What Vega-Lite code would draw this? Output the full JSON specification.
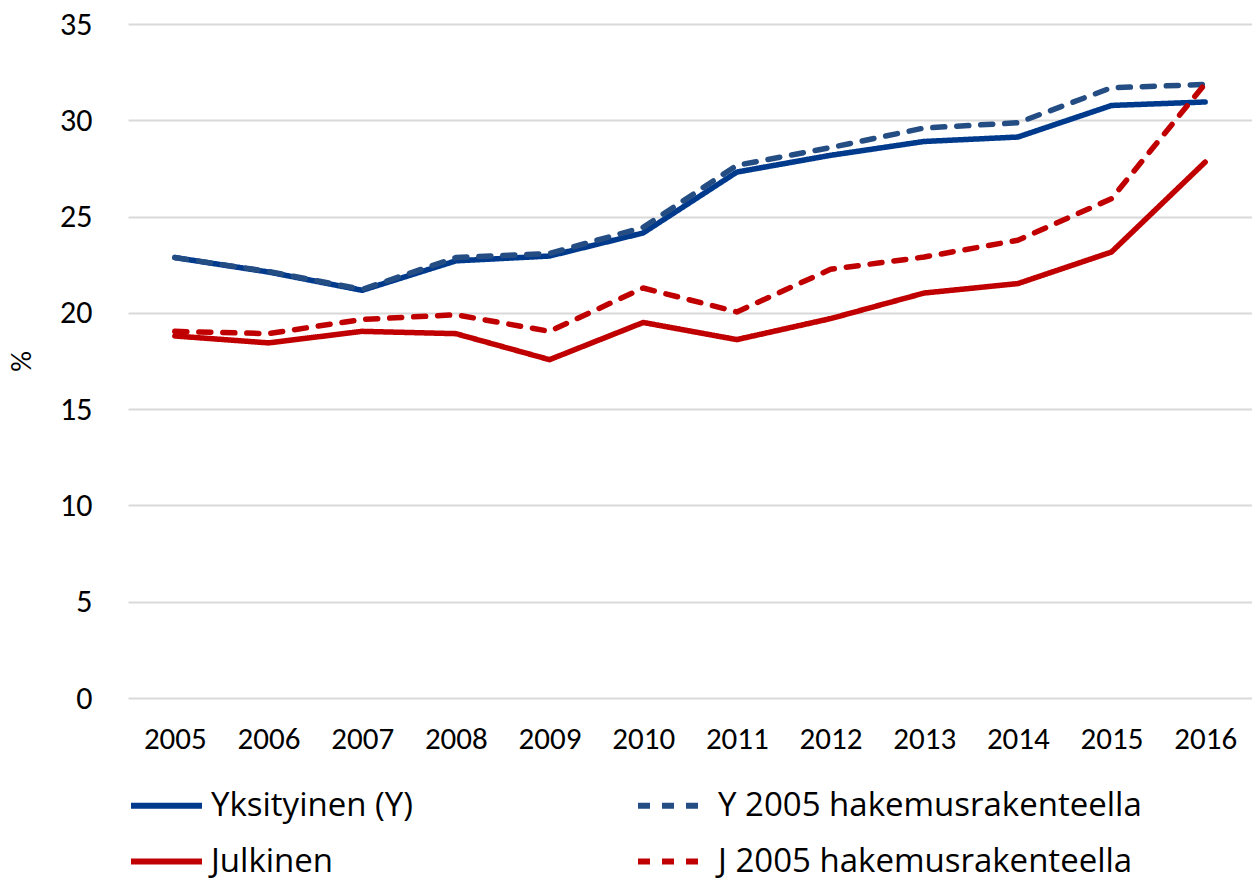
{
  "$schema": "https://vega.github.io/schema/vega-lite/v6.json",
  "width": 1124,
  "height": 674,
  "autosize": {"type": "none"},
  "padding": {"left": 128, "top": 24, "right": 0, "bottom": 184},
  "background": "white",
  "config": {
    "font": "Carlito, Lato, sans-serif",
    "view": {"stroke": null}
  },
  "data": {
    "values": [
      {"year": "2005", "series": "Yksityinen (Y)", "value": 22.87},
      {"year": "2006", "series": "Yksityinen (Y)", "value": 22.12},
      {"year": "2007", "series": "Yksityinen (Y)", "value": 21.17},
      {"year": "2008", "series": "Yksityinen (Y)", "value": 22.7},
      {"year": "2009", "series": "Yksityinen (Y)", "value": 22.95},
      {"year": "2010", "series": "Yksityinen (Y)", "value": 24.15},
      {"year": "2011", "series": "Yksityinen (Y)", "value": 27.31},
      {"year": "2012", "series": "Yksityinen (Y)", "value": 28.18},
      {"year": "2013", "series": "Yksityinen (Y)", "value": 28.9},
      {"year": "2014", "series": "Yksityinen (Y)", "value": 29.13},
      {"year": "2015", "series": "Yksityinen (Y)", "value": 30.77},
      {"year": "2016", "series": "Yksityinen (Y)", "value": 30.95},
      {"year": "2005", "series": "Y 2005 hakemusrakenteella", "value": 22.87},
      {"year": "2006", "series": "Y 2005 hakemusrakenteella", "value": 22.15},
      {"year": "2007", "series": "Y 2005 hakemusrakenteella", "value": 21.22},
      {"year": "2008", "series": "Y 2005 hakemusrakenteella", "value": 22.87},
      {"year": "2009", "series": "Y 2005 hakemusrakenteella", "value": 23.08},
      {"year": "2010", "series": "Y 2005 hakemusrakenteella", "value": 24.44},
      {"year": "2011", "series": "Y 2005 hakemusrakenteella", "value": 27.66},
      {"year": "2012", "series": "Y 2005 hakemusrakenteella", "value": 28.58},
      {"year": "2013", "series": "Y 2005 hakemusrakenteella", "value": 29.6},
      {"year": "2014", "series": "Y 2005 hakemusrakenteella", "value": 29.87},
      {"year": "2015", "series": "Y 2005 hakemusrakenteella", "value": 31.69},
      {"year": "2016", "series": "Y 2005 hakemusrakenteella", "value": 31.86},
      {"year": "2005", "series": "Julkinen", "value": 18.8},
      {"year": "2006", "series": "Julkinen", "value": 18.44},
      {"year": "2007", "series": "Julkinen", "value": 19.04},
      {"year": "2008", "series": "Julkinen", "value": 18.92},
      {"year": "2009", "series": "Julkinen", "value": 17.57},
      {"year": "2010", "series": "Julkinen", "value": 19.5},
      {"year": "2011", "series": "Julkinen", "value": 18.61},
      {"year": "2012", "series": "Julkinen", "value": 19.7},
      {"year": "2013", "series": "Julkinen", "value": 21.03},
      {"year": "2014", "series": "Julkinen", "value": 21.52},
      {"year": "2015", "series": "Julkinen", "value": 23.16},
      {"year": "2016", "series": "Julkinen", "value": 27.83},
      {"year": "2005", "series": "J 2005 hakemusrakenteella", "value": 19.04},
      {"year": "2006", "series": "J 2005 hakemusrakenteella", "value": 18.92},
      {"year": "2007", "series": "J 2005 hakemusrakenteella", "value": 19.66},
      {"year": "2008", "series": "J 2005 hakemusrakenteella", "value": 19.9},
      {"year": "2009", "series": "J 2005 hakemusrakenteella", "value": 19.04},
      {"year": "2010", "series": "J 2005 hakemusrakenteella", "value": 21.29},
      {"year": "2011", "series": "J 2005 hakemusrakenteella", "value": 20.05},
      {"year": "2012", "series": "J 2005 hakemusrakenteella", "value": 22.26},
      {"year": "2013", "series": "J 2005 hakemusrakenteella", "value": 22.9},
      {"year": "2014", "series": "J 2005 hakemusrakenteella", "value": 23.77},
      {"year": "2015", "series": "J 2005 hakemusrakenteella", "value": 25.93},
      {"year": "2016", "series": "J 2005 hakemusrakenteella", "value": 31.9}
    ]
  },
  "mark": {"type": "line", "strokeWidth": 5.5, "strokeCap": "round", "strokeJoin": "round"},
  "encoding": {
    "x": {
      "field": "year",
      "type": "ordinal",
      "scale": {"type": "point", "padding": 0.5},
      "axis": {
        "title": null,
        "labelAngle": 0,
        "labelFontSize": 31,
        "labelColor": "#000000",
        "labelPadding": 26,
        "ticks": false,
        "domain": false,
        "grid": false
      }
    },
    "y": {
      "field": "value",
      "type": "quantitative",
      "scale": {"domain": [0, 35], "nice": false, "zero": true},
      "axis": {
        "title": "%",
        "titleFontSize": 29,
        "titleFontWeight": "normal",
        "titleColor": "#000000",
        "titleX": -92,
        "titleY": 337,
        "values": [0, 5, 10, 15, 20, 25, 30, 35],
        "labelFontSize": 32,
        "labelColor": "#000000",
        "labelPadding": 36,
        "ticks": false,
        "domain": false,
        "grid": true,
        "gridColor": "#D9D9D9",
        "gridWidth": 2
      }
    },
    "color": {
      "field": "series",
      "type": "nominal",
      "scale": {
        "domain": ["Yksityinen (Y)", "Y 2005 hakemusrakenteella", "Julkinen", "J 2005 hakemusrakenteella"],
        "range": ["#003A8C", "#244D84", "#C00000", "#C00000"]
      },
      "legend": {
        "title": null,
        "orient": "none",
        "direction": "horizontal",
        "legendX": 0,
        "legendY": 743,
        "columns": 2,
        "gridAlign": "all",
        "columnPadding": -13,
        "rowPadding": -12,
        "symbolType": "stroke",
        "symbolSize": 5041,
        "symbolStrokeWidth": 6,
        "labelFont": "Open Sans",
        "labelFontSize": 33,
        "labelColor": "#000000",
        "labelOffset": 6,
        "labelLimit": 600
      }
    },
    "strokeDash": {
      "field": "series",
      "type": "nominal",
      "scale": {
        "domain": ["Yksityinen (Y)", "Y 2005 hakemusrakenteella", "Julkinen", "J 2005 hakemusrakenteella"],
        "range": [[1, 0], [12, 12], [1, 0], [12, 12]]
      },
      "legend": {
        "title": null,
        "orient": "none",
        "direction": "horizontal",
        "legendX": 0,
        "legendY": 743,
        "columns": 2,
        "gridAlign": "all",
        "columnPadding": -13,
        "rowPadding": -12,
        "symbolType": "stroke",
        "symbolSize": 5041,
        "symbolStrokeWidth": 6,
        "labelFont": "Open Sans",
        "labelFontSize": 33,
        "labelColor": "#000000",
        "labelOffset": 6,
        "labelLimit": 600
      }
    }
  }
}
